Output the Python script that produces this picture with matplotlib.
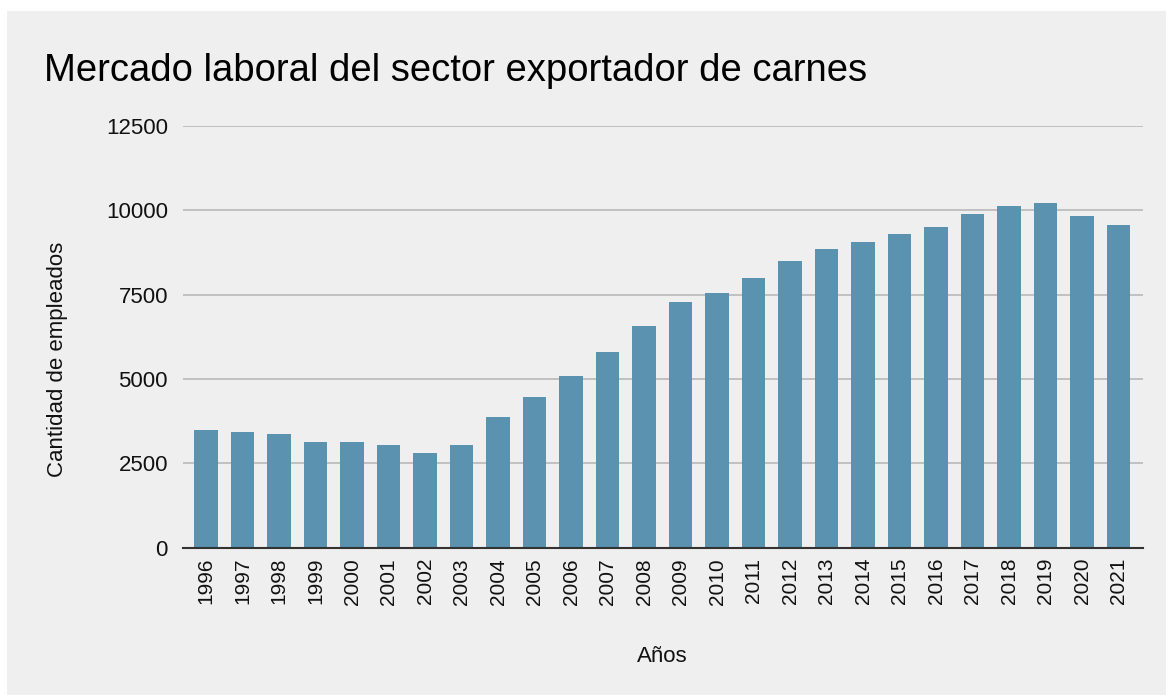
import matplotlib
matplotlib.use("Agg")
import matplotlib.pyplot as plt
from matplotlib.patches import Rectangle

years = [str(y) for y in range(1996, 2022)]
empleados = [3480, 3420, 3370, 3140, 3140, 3030, 2810, 3030, 3860, 4475,
             5075, 5800, 6560, 7280, 7560, 8000, 8510, 8840, 9055, 9285,
             9500, 9885, 10115, 10215, 9830, 9560]
yticks = [0, 2500, 5000, 7500, 10000, 12500]

plt.rcParams['font.family'] = ['Liberation Sans', 'DejaVu Sans']

W, H = 1166, 695
fig = plt.figure(figsize=(W / 100, H / 100), dpi=100)
fig.patch.set_facecolor('white')
bg = '#efefef'
fig.patches.append(Rectangle((7 / W, 0), 1 - 7 / W, 1 - 11 / H, transform=fig.transFigure,
                             facecolor=bg, edgecolor='none', zorder=-10))

ax = fig.add_axes([183 / W, 1 - 547.5 / H, (1143 - 183) / W, (547.5 - 126) / H])
ax.set_facecolor('none')
x = list(range(len(years)))
ax.bar(x, empleados, width=0.64, color='#5a92b0', zorder=3)
ax.set_xlim(-0.63, len(years) - 1 + 0.67)
ax.set_ylim(0, 12500)
ax.set_yticks(yticks)
ax.set_yticklabels([str(v) for v in yticks])
ax.set_xticks(x)
ax.set_xticklabels(years, rotation=90)
ax.tick_params(axis='y', length=0, pad=10.8, labelsize=16, colors='#111111')
ax.tick_params(axis='x', length=0, pad=7.5, labelsize=15, colors='#111111')
ax.yaxis.grid(True, color='#c0c0c0', linewidth=1.4, zorder=0)
ax.set_axisbelow(True)
for s in ['top', 'right', 'left']:
    ax.spines[s].set_visible(False)
ax.spines['bottom'].set_color('#333333')
ax.spines['bottom'].set_linewidth(1.5)
ax.spines['bottom'].set_zorder(4)

fig.text(44 / W, 1 - 81 / H, 'Mercado laboral del sector exportador de carnes',
         fontsize=27.5, color='#000000', ha='left', va='baseline')
fig.text(58 / W, 1 - 359 / H, 'Cantidad de empleados', rotation=90,
         fontsize=16, color='#111111', ha='center', va='center')
fig.text(662 / W, 1 - 656 / H, 'Años', fontsize=16, color='#111111',
         ha='center', va='center')

fig.savefig('out.png', dpi=100, facecolor=fig.get_facecolor())
